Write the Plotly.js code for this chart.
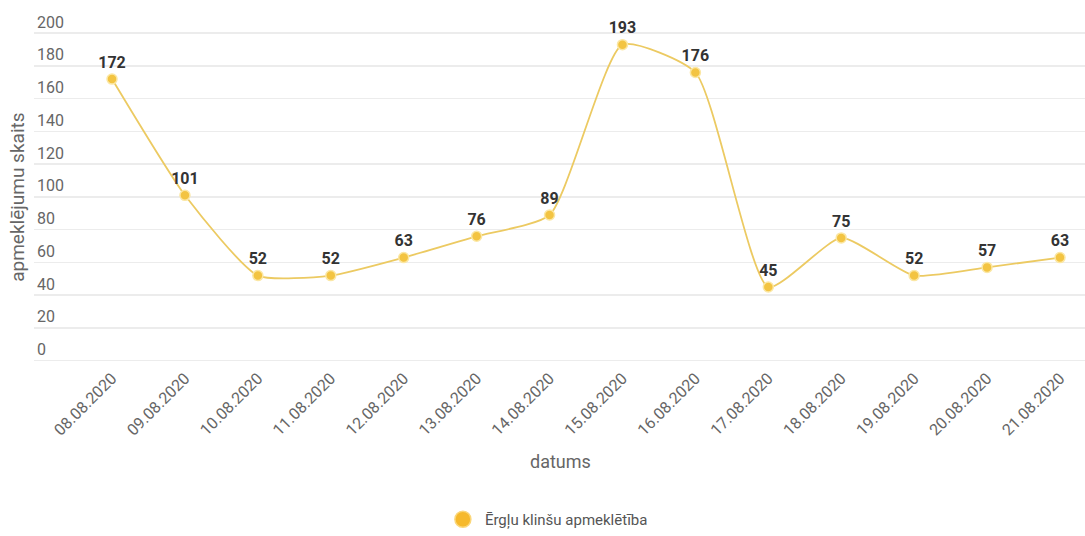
<!DOCTYPE html>
<html>
<head>
<meta charset="utf-8">
<script src="https://cdn.plot.ly/plotly-3.0.1.min.js"></script>
<style>html,body{margin:0;padding:0;background:#fff;}#chart{width:1085px;height:536px;}</style>
</head>
<body>
<div id="chart"></div>
<script>
const dates = ["08.08.2020","09.08.2020","10.08.2020","11.08.2020","12.08.2020","13.08.2020","14.08.2020","15.08.2020","16.08.2020","17.08.2020","18.08.2020","19.08.2020","20.08.2020","21.08.2020"];
const visitors = [172,101,52,52,63,76,89,193,176,45,75,52,57,63];
const seriesName = "Ērgļu klinšu apmeklētība";
const yTitle = "apmeklējumu skaits";
const xTitle = "datums";
const yTicks = [0,20,40,60,80,100,120,140,160,180,200];

const trace = {
  x: dates,
  y: visitors,
  name: seriesName,
  type: "scatter",
  mode: "lines+markers+text",
  text: visitors.map(String),
  textposition: "top center",
  textfont: {family: "Roboto, sans-serif", size: 16, color: "#333333", weight: 700},
  line: {shape: "spline", smoothing: 0.55, color: "#ecca62", width: 1.8},
  marker: {size: 10, color: "#f3c442", line: {color: "#fbe7a4", width: 1.5}},
  cliponaxis: false,
  showlegend: false,
  hoverinfo: "x+y"
};

const legendTrace = {
  x: [null], y: [null],
  name: seriesName,
  type: "scatter",
  mode: "markers",
  marker: {size: 16, color: "#f6b92c", line: {color: "#fbd77a", width: 1.5}},
  showlegend: true
};

const layout = {
  width: 1085, height: 536,
  margin: {l: 34, r: 0, t: 6.7, b: 170.7},
  paper_bgcolor: "#ffffff",
  plot_bgcolor: "#ffffff",
  font: {family: "Roboto, sans-serif", color: "#666666", size: 17},
  showlegend: true,
  legend: {orientation: "h", x: 0.488, xanchor: "center", y: -0.437, yanchor: "middle",
           font: {size: 15, color: "#555555"}, itemwidth: 34},
  xaxis: {
    type: "category",
    range: [-1.07, 13.343],
    tickangle: -45,
    ticks: "",
    showgrid: false,
    showline: false,
    zeroline: false,
    tickfont: {size: 16, color: "#666666"},
    ticklabelstandoff: 1
  },
  yaxis: {
    range: [-2, 216],
    tickvals: yTicks,
    ticklabelposition: "inside top",
    showgrid: true,
    gridcolor: "#ececec",
    gridwidth: 1.5,
    zeroline: false,
    showline: false,
    ticks: "",
    tickfont: {size: 16, color: "#666666"}
  },
  annotations: [
    {text: yTitle, xref: "paper", yref: "paper", x: -0.016, y: 0.466, textangle: -90,
     showarrow: false, xanchor: "center", yanchor: "middle", font: {size: 19, color: "#666666"}},
    {text: xTitle, xref: "paper", yref: "paper", x: 0.501, y: -0.272,
     showarrow: false, xanchor: "center", yanchor: "middle", font: {size: 18, color: "#666666"}}
  ]
};

Plotly.newPlot("chart", [trace, legendTrace], layout, {displayModeBar: false, staticPlot: true});
</script>
</body>
</html>
